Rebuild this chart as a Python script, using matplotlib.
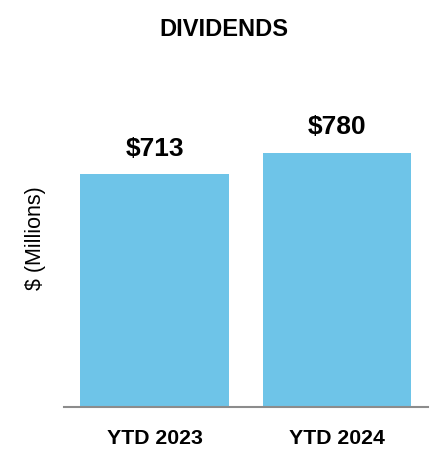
import matplotlib.pyplot as plt

# data
categories = ['YTD 2023', 'YTD 2024']
values = [713, 780]
labels = ['$713', '$780']

plt.rcParams['font.family'] = ['Liberation Sans', 'DejaVu Sans']

fig = plt.figure(figsize=(4.48, 4.66), dpi=100)
ax = fig.add_axes([0.1429, 0.1266, 0.8125, 0.7434])

x = range(len(categories))
ax.bar(x, values, width=0.816, color='#6EC4E8')
ax.set_xlim(-0.496, 1.499)
ax.set_ylim(0, 1062)

for xi, v, lab in zip(x, values, labels):
    ax.annotate(lab, (xi, v), xytext=(0, 10), textcoords='offset points',
                ha='center', va='bottom', fontsize=19, fontweight='bold')

ax.set_xticks(list(x))
ax.set_xticklabels(categories, fontsize=15.3, fontweight='bold')
ax.tick_params(axis='x', length=0, pad=16)
ax.set_yticks([])

for s in ['top', 'right', 'left']:
    ax.spines[s].set_visible(False)
ax.spines['bottom'].set_color('#8c8c8c')
ax.spines['bottom'].set_linewidth(1.5)

fig.text(0.5, 1 - 30 / 466, 'DIVIDENDS', ha='center', va='center',
         fontsize=17, fontweight='bold')
fig.text(36 / 448, 1 - 238 / 466, '$ (Millions)', ha='center', va='center',
         rotation=90, fontsize=15.5)

fig.savefig('out.png', dpi=100)
